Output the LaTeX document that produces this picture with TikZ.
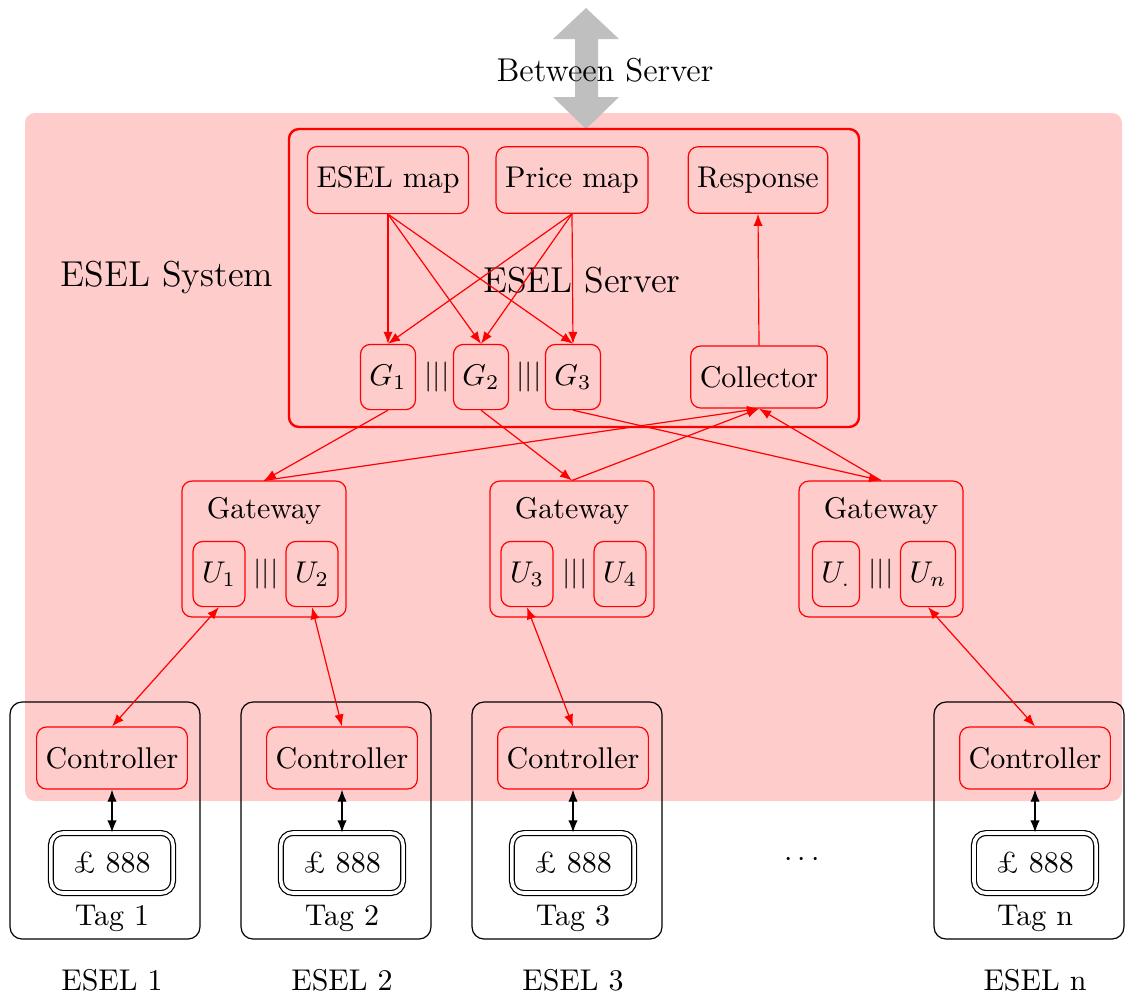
\documentclass[tikz,border=0pt]{standalone}
\usetikzlibrary{arrows.meta}
\begin{document}
\begin{tikzpicture}[x=0.3333pt,y=-0.3333pt,
  redbox/.style={draw=red, rounded corners=3.3pt, inner xsep=3pt, inner ysep=6.7pt},
  gwbox/.style={draw=red, rounded corners=3.3pt, minimum width=54.7pt, minimum height=45.3pt},
  srvbox/.style={draw=red, line width=0.8pt, rounded corners=3.3pt, minimum width=190pt, minimum height=99.3pt},
  tagbox/.style={draw=black, rounded corners=4pt, minimum width=63.3pt, minimum height=79pt},
  pricebox/.style={draw=black, double, double distance=1.2pt, rounded corners=4pt, minimum width=40.7pt, minimum height=20pt},
  sep/.style={inner sep=0pt},
  tip/.tip={Latex[length=4pt,width=3.1pt]},
  ra/.style={draw=red, -tip},
  rb/.style={draw=red, tip-tip},
  bb/.style={draw=black, tip-tip}]

\useasboundingbox (0,0) rectangle (1125,997);

% system area
\fill[red!20, rounded corners=3.3pt] (25,113) rectangle (1122,801);
\node[font=\large] (sys) at (167,277) {ESEL System};

% link to the other server
\fill[gray!50] (586,8) -- (619,39) -- (598,39) -- (598,97) -- (619,97) -- (586,129)
  -- (553,97) -- (575,97) -- (575,39) -- (553,39) -- cycle;
\node[font=\fontsize{11}{13}\selectfont] (between) at (605,70) {Between Server};

% server
\node[srvbox] (srv) at (574,278) {};
\node[font=\large] (srvl) at (582,280) {ESEL Server};
\node[redbox] (em) at (388,180) {ESEL map};
\node[redbox] (pm) at (572,180) {Price map};
\node[redbox] (resp) at (758,180) {Response};
\node[redbox] (g1) at (388,377) {$G_1$};
\node[sep] (s1) at (437,377) {$|||$};
\node[redbox] (g2) at (481,377) {$G_2$};
\node[sep] (s2) at (529,377) {$|||$};
\node[redbox] (g3) at (573,377) {$G_3$};
\node[redbox] (col) at (759,377) {Collector};

% gateways
\node[gwbox] (gw1) at (264,549) {};
\node (gwl1) at (264,511) {Gateway};
\node[redbox] (u1) at (219,574) {$U_1$};
\node[sep] (s3) at (266,574) {$|||$};
\node[redbox] (u2) at (312,574) {$U_2$};

\node[gwbox] (gw2) at (572,549) {};
\node (gwl2) at (572,511) {Gateway};
\node[redbox] (u3) at (527,574) {$U_3$};
\node[sep] (s4) at (575,574) {$|||$};
\node[redbox] (u4) at (620,574) {$U_4$};

\node[gwbox] (gw3) at (881,549) {};
\node (gwl3) at (881,511) {Gateway};
\node[redbox] (u5) at (836,574) {$U_.$};
\node[sep] (s5) at (881,574) {$|||$};
\node[redbox] (u6) at (928,574) {$U_n$};

% tags
\node[tagbox] (t1) at (105,820.5) {};
\node[tagbox] (t2) at (336,820.5) {};
\node[tagbox] (t3) at (567,820.5) {};
\node[tagbox] (t4) at (1029,820.5) {};

\node[redbox] (c1) at (112,758) {Controller};
\node[redbox] (c2) at (342,758) {Controller};
\node[redbox] (c3) at (573,758) {Controller};
\node[redbox] (c4) at (1035,758) {Controller};

\node[pricebox] (p1) at (112,863) {\pounds\ 888};
\node[pricebox] (p2) at (342,863) {\pounds\ 888};
\node[pricebox] (p3) at (573,863) {\pounds\ 888};
\node[pricebox] (p4) at (1035,863) {\pounds\ 888};

\node (tl1) at (112,918) {Tag 1};
\node (tl2) at (342,918) {Tag 2};
\node (tl3) at (573,918) {Tag 3};
\node (tl4) at (1035,918) {Tag n};

\node (e1) at (112,980) {ESEL 1};
\node (e2) at (342,980) {ESEL 2};
\node (e3) at (573,980) {ESEL 3};
\node (e4) at (1035,980) {ESEL n};

\node (dots) at (802,860) {$\cdots$};

% maps to G units
\draw[ra] (em.south) -- (g1.north);
\draw[ra] (em.south) -- (g2.north);
\draw[ra] (em.south) -- (g3.north);
\draw[ra] (pm.south) -- (g1.north);
\draw[ra] (pm.south) -- (g2.north);
\draw[ra] (pm.south) -- (g3.north);
\draw[ra] (col.north) -- (resp.south);

% G units to gateways, gateways to collector
\draw[ra] (g1.south) -- (gw1.north);
\draw[ra] (g2.south) -- (gw2.north);
\draw[ra] (g3.south) -- (gw3.north);
\draw[ra] (gw1.north) -- (col.south);
\draw[ra] (gw2.north) -- (col.south);
\draw[ra] (gw3.north) -- (col.south);

% gateways to controllers
\draw[rb] (u1.south) -- (c1.north);
\draw[rb] (u2.south) -- (c2.north);
\draw[rb] (u3.south) -- (c3.north);
\draw[rb] (u6.south) -- (c4.north);

% controllers to displays
\draw[bb] (c1.south) -- (p1.north);
\draw[bb] (c2.south) -- (p2.north);
\draw[bb] (c3.south) -- (p3.north);
\draw[bb] (c4.south) -- (p4.north);
\end{tikzpicture}
\end{document}
